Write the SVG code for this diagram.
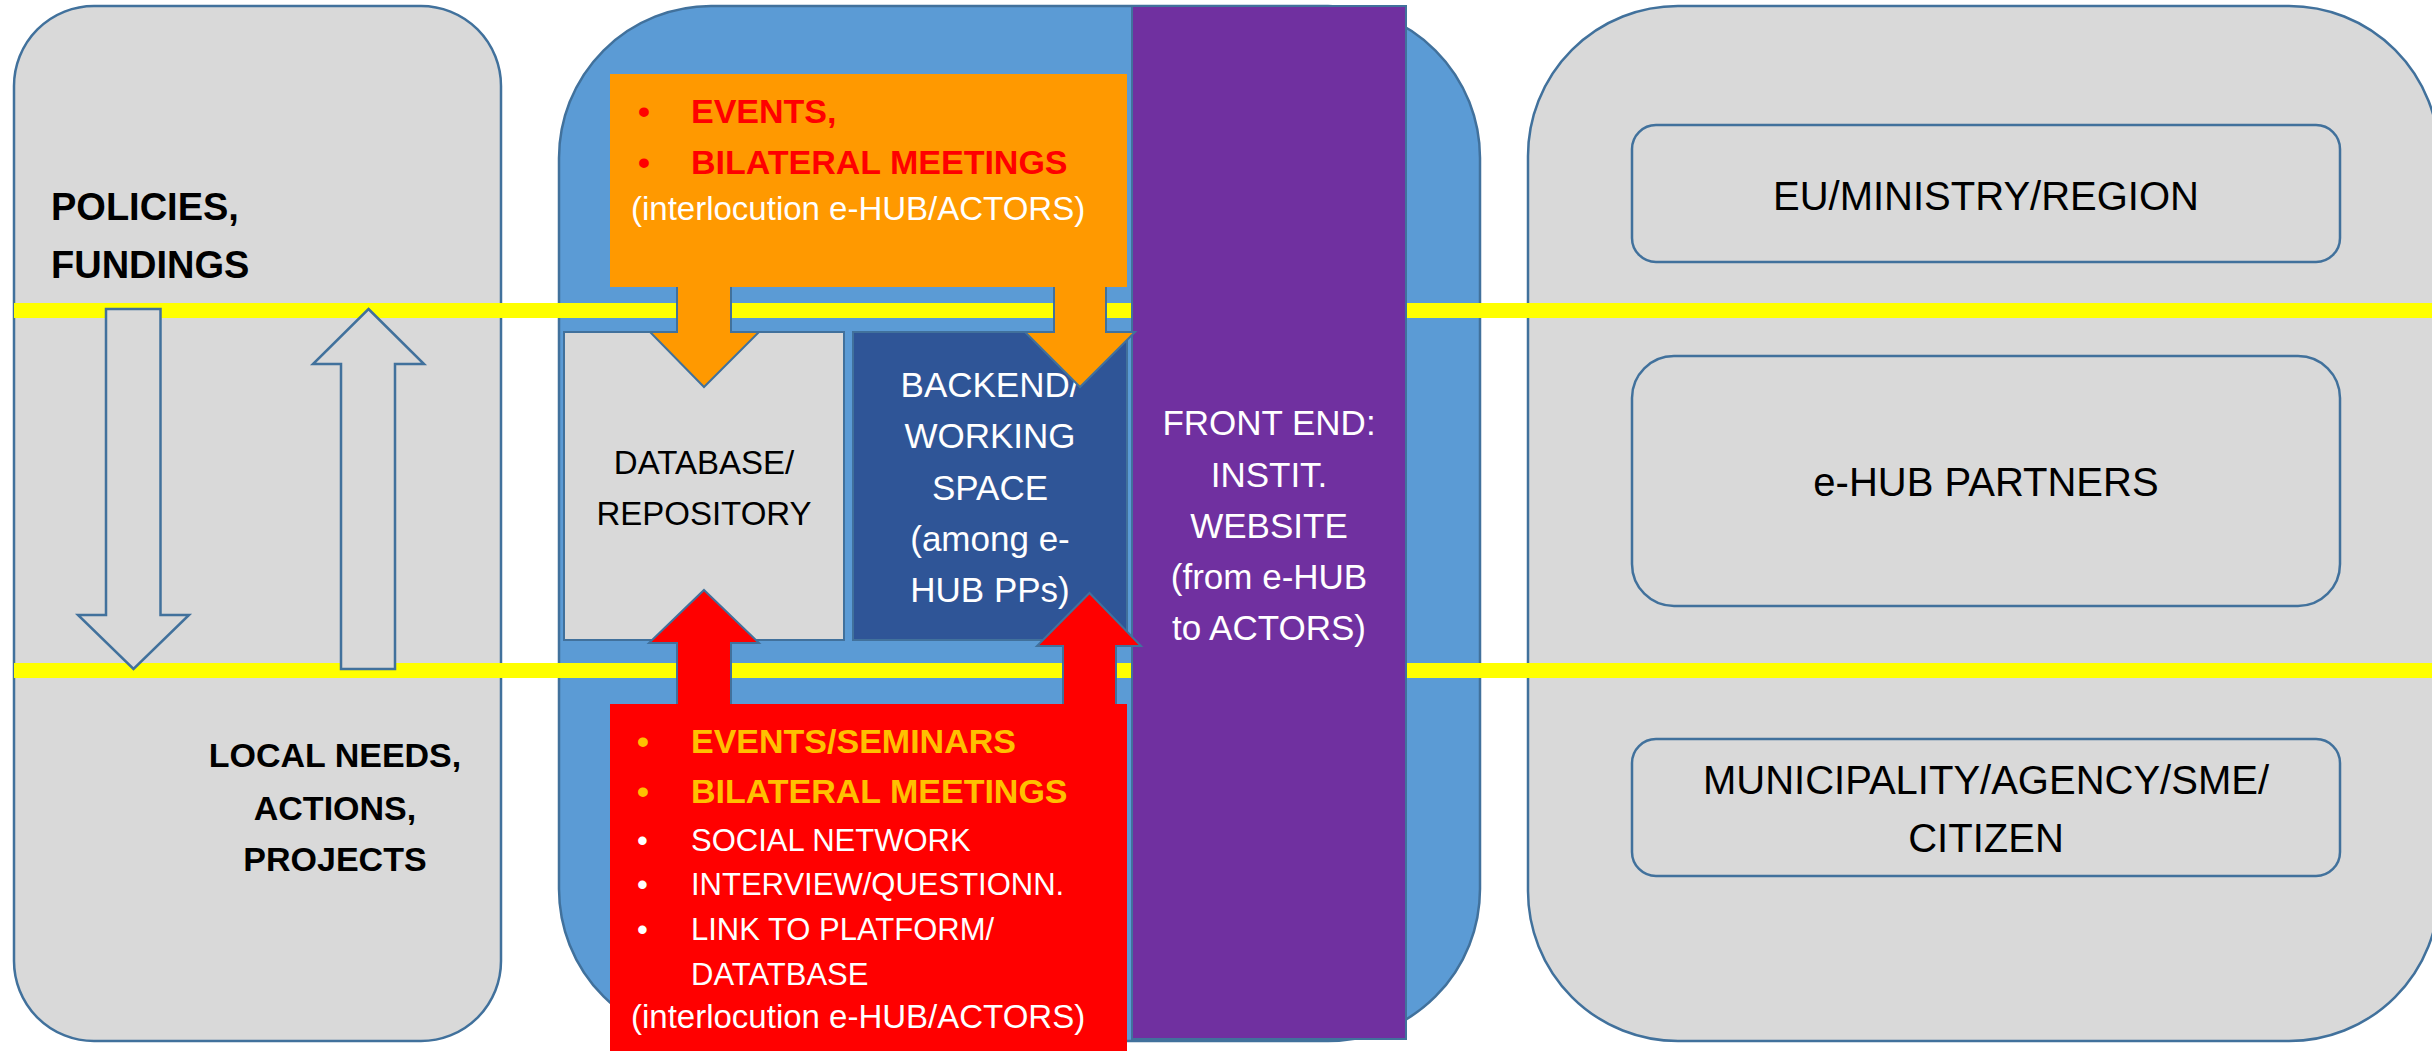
<svg xmlns="http://www.w3.org/2000/svg" width="2432" height="1051" viewBox="0 0 2432 1051">
<style>
text{font-family:"Liberation Sans",Arial,sans-serif}
.panel{fill:#D9D9D9;stroke:#41719C;stroke-width:2.5}
.hub{fill:#5B9BD5;stroke:#41719C;stroke-width:2.5}
.arr{fill:#D9D9D9;stroke:#41719C;stroke-width:2.5}
.oarr{fill:#FF9900;stroke:#41719C;stroke-width:2}
.rarr{fill:#FF0000;stroke:#41719C;stroke-width:2}
.yl{stroke:#FFFF00;stroke-width:15}
.bk{fill:#000}
.wh{fill:#FFF}
.b{font-weight:bold}
.c{text-anchor:middle}
</style>
<g id="left-panel">
<rect class="panel" x="14" y="6" width="487" height="1035" rx="80" ry="80"/>
<text class="bk b" x="51" y="220" font-size="38">POLICIES,</text>
<text class="bk b" x="51" y="278" font-size="38">FUNDINGS</text>
<text class="bk b c" x="335" y="767" font-size="34">LOCAL NEEDS,</text>
<text class="bk b c" x="335" y="820" font-size="34">ACTIONS,</text>
<text class="bk b c" x="335" y="871" font-size="34">PROJECTS</text>
</g>
<g id="hub-panel">
<rect class="hub" x="559" y="6" width="921" height="1035" rx="152" ry="152"/>
</g>
<g id="right-panel">
<rect class="panel" x="1528" y="6" width="911" height="1035" rx="150" ry="150"/>
</g>
<g id="levels">
<line class="yl" x1="14" y1="310.5" x2="2432" y2="310.5"/>
<line class="yl" x1="14" y1="670.5" x2="2432" y2="670.5"/>
</g>
<g id="connectors">
<polygon class="arr" points="106,309 160.5,309 160.5,615 189,615 133.5,669 78,615 106,615"/>
<polygon class="arr" points="368.5,309 424,364 395,364 395,669 341,669 341,364 313,364"/>
</g>
<g id="eu-box">
<rect class="panel" x="1632" y="125" width="708" height="137" rx="24" ry="24"/>
<text class="bk c" x="1986" y="210" font-size="40">EU/MINISTRY/REGION</text>
</g>
<g id="partners-box">
<rect class="panel" x="1632" y="356" width="708" height="250" rx="42" ry="42"/>
<text class="bk c" x="1986" y="496" font-size="40">e-HUB PARTNERS</text>
</g>
<g id="municipality-box">
<rect class="panel" x="1632" y="739" width="708" height="137" rx="24" ry="24"/>
<text class="bk c" x="1986" y="794" font-size="40">MUNICIPALITY/AGENCY/SME/</text>
<text class="bk c" x="1986" y="852" font-size="40">CITIZEN</text>
</g>
<g id="database">
<rect x="564" y="332" width="280" height="308" fill="#D9D9D9" stroke="#41719C" stroke-width="2"/>
<text class="bk c" x="704" y="474" font-size="33">DATABASE/</text>
<text class="bk c" x="704" y="525" font-size="33">REPOSITORY</text>
</g>
<g id="backend">
<rect x="853" y="332" width="274" height="308" fill="#2F5597" stroke="#41719C" stroke-width="2"/>
<text class="wh c" x="990" y="397" font-size="35">BACKEND/</text>
<text class="wh c" x="990" y="448" font-size="35">WORKING</text>
<text class="wh c" x="990" y="500" font-size="35">SPACE</text>
<text class="wh c" x="990" y="551" font-size="35">(among e-</text>
<text class="wh c" x="990" y="602" font-size="35">HUB PPs)</text>
</g>
<g id="front-end">
<rect x="1132" y="6" width="274" height="1033" fill="#7030A0" stroke="#41719C" stroke-width="2"/>
<text class="wh c" x="1269" y="435" font-size="35">FRONT END:</text>
<text class="wh c" x="1269" y="487" font-size="35">INSTIT.</text>
<text class="wh c" x="1269" y="538" font-size="35">WEBSITE</text>
<text class="wh c" x="1269" y="589" font-size="35">(from e-HUB</text>
<text class="wh c" x="1269" y="640" font-size="35">to ACTORS)</text>
</g>
<g id="orange-arrows">
<polygon class="oarr" points="677,282 731,282 731,332 759,332 704,387 650,332 677,332"/>
<polygon class="oarr" points="1054,282 1106,282 1106,332 1135,332 1080,387 1025,332 1054,332"/>
</g>
<g id="events-box">
<rect x="610" y="74" width="517" height="213" fill="#FF9900"/>
<text class="b" x="638" y="123" font-size="34" fill="#FF0000">•</text>
<text class="b" x="691" y="123" font-size="34" fill="#FF0000">EVENTS,</text>
<text class="b" x="638" y="174" font-size="34" fill="#FF0000">•</text>
<text class="b" x="691" y="174" font-size="34" fill="#FF0000">BILATERAL MEETINGS</text>
<text class="wh" x="631" y="220" font-size="33">(interlocution e-HUB/ACTORS)</text>
</g>
<g id="red-arrows">
<polygon class="rarr" points="704,590 759,643 731,643 731,710 677,710 677,643 649,643"/>
<polygon class="rarr" points="1089.5,593 1141,646 1116,646 1116,710 1063,710 1063,646 1037,646"/>
</g>
<g id="channels-box">
<rect x="610" y="704" width="517" height="350" fill="#FF0000"/>
<text class="b" x="637" y="753" font-size="34" fill="#FFC000">•</text>
<text class="b" x="691" y="753" font-size="34" fill="#FFC000">EVENTS/SEMINARS</text>
<text class="b" x="637" y="803" font-size="34" fill="#FFC000">•</text>
<text class="b" x="691" y="803" font-size="34" fill="#FFC000">BILATERAL MEETINGS</text>
<text class="wh" x="637" y="851" font-size="31">•</text>
<text class="wh" x="691" y="851" font-size="31">SOCIAL NETWORK</text>
<text class="wh" x="637" y="895" font-size="31">•</text>
<text class="wh" x="691" y="895" font-size="31">INTERVIEW/QUESTIONN.</text>
<text class="wh" x="637" y="940" font-size="31">•</text>
<text class="wh" x="691" y="940" font-size="31">LINK TO PLATFORM/</text>
<text class="wh" x="691" y="985" font-size="31">DATATBASE</text>
<text class="wh" x="631" y="1028" font-size="33">(interlocution e-HUB/ACTORS)</text>
</g>
</svg>
